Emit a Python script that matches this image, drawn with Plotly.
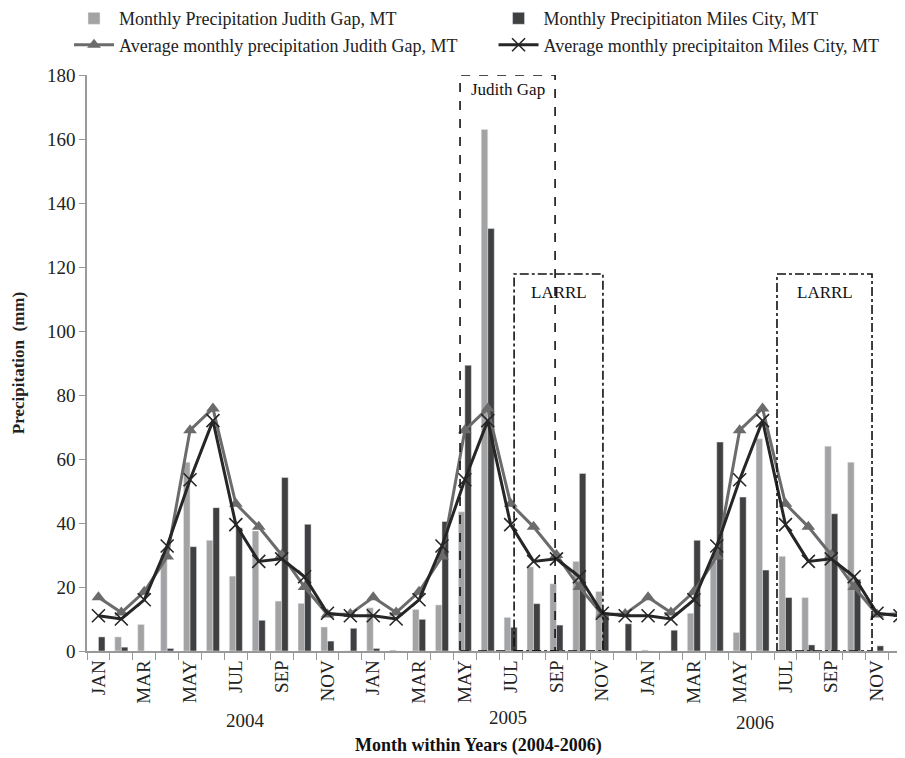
import plotly.graph_objects as go

months = ["JAN", "FEB", "MAR", "APR", "MAY", "JUN", "JUL", "AUG", "SEP", "OCT", "NOV", "DEC"]
years = ["2004", "2005", "2006"]

# Monthly precipitation (mm), Jan 2004 .. Dec 2006
judith_gap_monthly = [
    0.0, 4.4, 8.3, 30.0, 59.0, 34.6, 23.4, 37.5, 15.6, 14.9, 7.5, 0.0,
    13.5, 0.3, 13.0, 14.4, 43.5, 163.0, 10.5, 26.3, 21.0, 28.0, 18.6, 0.0,
    0.3, 0.0, 11.8, 28.0, 5.8, 66.3, 29.6, 16.7, 64.0, 59.0, 0.0, 0.0,
]
miles_city_monthly = [
    4.4, 1.2, 0.0, 0.8, 32.6, 44.8, 38.5, 9.6, 54.2, 39.6, 3.1, 7.1,
    0.8, 0.0, 9.9, 40.5, 89.3, 132.0, 7.4, 14.8, 8.1, 55.5, 12.0, 8.5,
    0.0, 6.5, 34.6, 65.3, 48.1, 25.3, 16.7, 1.9, 42.9, 22.4, 1.6, 2.1,
]
# Long-term average monthly precipitation (mm), shown for each year
judith_gap_avg = [
    16.8, 12.0, 18.5, 29.5, 69.0, 75.8, 46.0, 38.8, 30.0, 20.0, 11.4, 11.6,
    16.8, 12.0, 18.5, 29.5, 69.0, 75.8, 46.0, 38.8, 30.0, 20.0, 11.4, 11.6,
    16.8, 12.0, 18.5, 29.5, 69.0, 75.8, 46.0, 38.8, 30.0, 20.0, 11.4, 11.6,
]
miles_city_avg = [
    11.0, 10.0, 16.0, 32.8, 53.5, 72.0, 39.5, 28.0, 28.8, 23.2, 11.8, 11.0,
    11.0, 10.0, 16.0, 32.8, 53.5, 72.0, 39.5, 28.0, 28.8, 23.2, 11.8, 11.0,
    11.0, 10.0, 16.0, 32.8, 53.5, 72.0, 39.5, 28.0, 28.8, 23.2, 11.8, 11.0,
]

categories = [f"{m} {y}" for y in years for m in months]
tick_text = [m if i % 2 == 0 else "" for i, m in enumerate(months * len(years))]

FONT = "Liberation Serif, Times New Roman, serif"
LIGHT = "#a3a3a3"
DARK = "#404040"
TRI = "#6b6b6b"
XCOL = "#262626"

fig = go.Figure()
fig.add_trace(go.Bar(x=categories, y=judith_gap_monthly, name="Monthly Precipitation Judith Gap, MT",
                     marker_color=LIGHT, legend="legend"))
fig.add_trace(go.Bar(x=categories, y=miles_city_monthly, name="Monthly Precipitiaton Miles City, MT",
                     marker_color=DARK, legend="legend2"))
fig.add_trace(go.Scatter(x=categories, y=judith_gap_avg, mode="lines+markers",
                         name="Average monthly precipitation Judith Gap, MT",
                         line=dict(color=TRI, width=3),
                         marker=dict(symbol="triangle-up", size=12, color=TRI),
                         legend="legend"))
fig.add_trace(go.Scatter(x=categories, y=miles_city_avg, mode="lines+markers",
                         name="Average monthly precipitaiton Miles City, MT",
                         line=dict(color=XCOL, width=3),
                         marker=dict(symbol="x-thin", size=13, color=XCOL,
                                     line=dict(width=1.6, color=XCOL)),
                         legend="legend2"))

# Highlight boxes (category-index coordinates)
boxes = [
    dict(x0=15.79, x1=19.94, y0=0, y1=180, dash="dash", label="Judith Gap", ly=175.5),
    dict(x0=18.15, x1=22.03, y0=0, y1=117.8, dash="dashdot", label="LARRL", ly=112),
    dict(x0=29.63, x1=33.78, y0=0, y1=117.8, dash="dashdot", label="LARRL", ly=112),
]
for b in boxes:
    fig.add_shape(type="rect", xref="x", yref="y", x0=b["x0"], x1=b["x1"], y0=b["y0"], y1=b["y1"],
                  line=dict(color="#111111", width=1.6, dash=b["dash"]), layer="above")
    fig.add_annotation(x=(b["x0"] + b["x1"]) / 2, y=b["ly"], xref="x", yref="y", text=b["label"],
                       showarrow=False, font=dict(family=FONT, size=17, color="#111111"))

# plot area is 818 x 576 px; its top-left sits at page (87, 75)
PW, PH = 818, 576
year_pos = [(245, 720), (508, 717), (755, 722)]
for yr, (px, py) in zip(years, year_pos):
    fig.add_annotation(x=(px - 87) / PW, y=(651 - py) / PH, xref="paper", yref="paper",
                       xanchor="center", yanchor="middle",
                       text=yr, showarrow=False, font=dict(family=FONT, size=19, color="#222"))

fig.add_annotation(x=(478 - 87) / PW, y=(651 - 745) / PH, xref="paper", yref="paper",
                   xanchor="center", yanchor="middle",
                   text="<b>Month within Years (2004-2006)</b>", showarrow=False,
                   font=dict(family=FONT, size=18, color="#111"))

# page body has an 8px margin, so the figure is offset by 8px
fig.update_layout(
    width=897, height=750,
    margin=dict(l=79, r=0, t=67, b=107, autoexpand=False),
    paper_bgcolor="white", plot_bgcolor="white",
    barmode="group", bargap=0.43, bargroupgap=0,
    font=dict(family=FONT, color="#222"),
    legend=dict(x=-0.022, y=1.13, xanchor="left", yanchor="top", orientation="v",
                font=dict(family=FONT, size=18, color="#222"), bgcolor="rgba(0,0,0,0)",
                tracegroupgap=0, itemwidth=40),
    legend2=dict(x=0.497, y=1.13, xanchor="left", yanchor="top", orientation="v",
                 font=dict(family=FONT, size=18, color="#222"), bgcolor="rgba(0,0,0,0)",
                 tracegroupgap=0, itemwidth=40),
    xaxis=dict(type="category", tickmode="array", tickvals=categories, ticktext=tick_text,
               tickson="boundaries", ticks="outside", ticklen=7, tickcolor="#999",
               tickangle=-90, tickfont=dict(family=FONT, size=19, color="#222"),
               showline=True, linecolor="#999", linewidth=1.5, showgrid=False,
               range=[-0.5, 35.22], automargin=False),
    yaxis=dict(range=[0, 180], dtick=20, ticks="outside", ticklen=6, tickcolor="#999",
               tickfont=dict(family=FONT, size=19, color="#222"),
               showline=True, linecolor="#999", linewidth=1.5, showgrid=False, zeroline=False,
               automargin=False,
               title=dict(text="<b>Precipitation  (mm)</b>", font=dict(family=FONT, size=17, color="#222"),
                          standoff=18)),
)

fig.write_html("out.html")
